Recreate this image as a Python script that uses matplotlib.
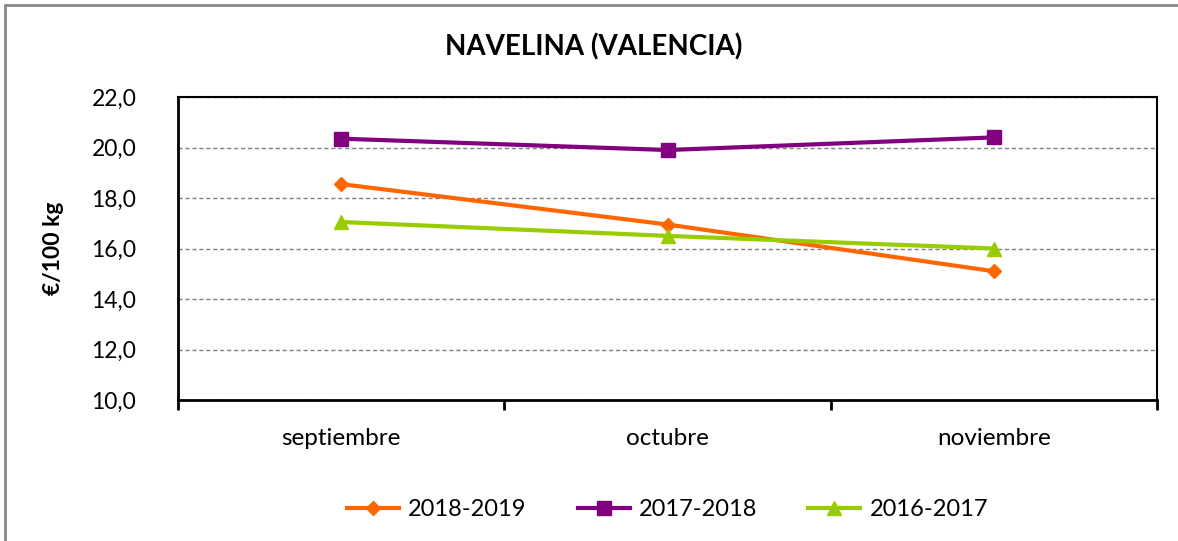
import matplotlib
matplotlib.use("Agg")
import matplotlib.pyplot as plt
from matplotlib.patches import Rectangle

categories = ["septiembre", "octubre", "noviembre"]
s2018 = [18.55, 16.95, 15.1]
s2017 = [20.35, 19.9, 20.4]
s2016 = [17.05, 16.5, 16.0]
series_labels = ["2018-2019", "2017-2018", "2016-2017"]
yticks = [10, 12, 14, 16, 18, 20, 22]

plt.rcParams['font.family'] = ['Lato', 'DejaVu Sans']

fig = plt.figure(figsize=(11.78, 5.41), dpi=100)
ax = fig.add_axes([178/1178, 1-400/541, (1157-178)/1178, (400-97)/541])

x = list(range(len(categories)))
ax.plot(x, s2018, color='#FF6600', lw=3, marker='D', ms=7, label=series_labels[0])
ax.plot(x, s2017, color='#800080', lw=3, marker='s', ms=10, label=series_labels[1])
ax.plot(x, s2016, color='#99CC00', lw=3, marker='^', ms=10, label=series_labels[2])

ax.set_xlim(-0.5, 2.5)
ax.set_ylim(10, 22)
ax.set_yticks(yticks)
ax.set_yticklabels([f"{v:.1f}".replace('.', ',') for v in yticks], fontsize=16.5)
ax.tick_params(axis='y', length=0, pad=30)
ax.set_xticks([-0.5, 0.5, 1.5, 2.5])
ax.set_xticklabels([])
ax.set_xticks(x, minor=True)
ax.set_xticklabels(categories, minor=True, fontsize=17.5)
ax.tick_params(axis='x', which='major', length=7, width=2, direction='out')
ax.tick_params(axis='x', which='minor', length=0, pad=20)
ax.grid(axis='y', color='#808080', linestyle=(0, (3, 2)), lw=1)
for v in ['left', 'bottom', 'top', 'right']:
    ax.spines[v].set_linewidth(1.5)
ax.spines['left'].set_linewidth(2)
ax.spines['bottom'].set_linewidth(2)

ax.set_ylabel("€/100 kg", fontsize=16.5, fontweight='bold', labelpad=20)
fig.text(594/1178, 1-47/541, "NAVELINA (VALENCIA)", ha='center', va='center',
         fontsize=20, fontweight='bold')

ax.legend(loc='center', bbox_to_anchor=(0.5, (400-510)/303), ncol=3, frameon=False,
          fontsize=17, handlelength=2.2, columnspacing=2.15, handletextpad=0.4)

fig.add_artist(Rectangle((5/1178, -0.1), 1.2, 1-5/541+0.1, transform=fig.transFigure,
                         fill=False, edgecolor='#888888', lw=2))

fig.savefig("out.png", dpi=100)
